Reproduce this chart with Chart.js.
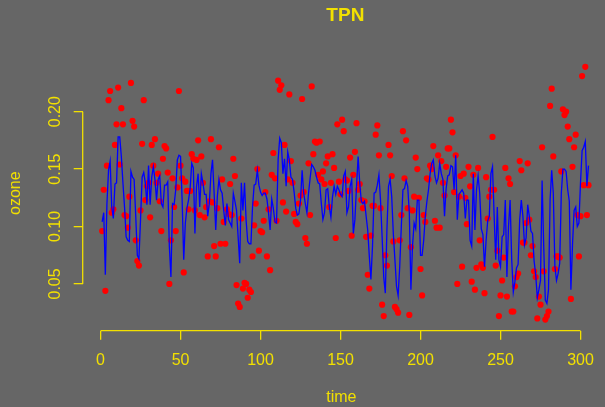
<!DOCTYPE html>
<html><head><meta charset="utf-8">
<script src="https://cdn.jsdelivr.net/npm/chart.js@4.4.1/dist/chart.umd.min.js"></script>
<style>html,body{margin:0;padding:0;background:#666666;overflow:hidden}canvas{display:block}</style>
</head><body>
<canvas id="c" width="605" height="407"></canvas>
<script>
const chartTitle = 'TPN';
const xLabel = 'time';
const yLabel = 'ozone';
const xTicks = [0, 50, 100, 150, 200, 250, 300];
const yTicks = [0.05, 0.10, 0.15, 0.20];
const yTickLabels = ['0.05', '0.10', '0.15', '0.20'];

// observed ozone (red points), time = 1..305
const observed = [
0.096,0.132,0.044,0.153,0.210,0.218,0.112,0.115,0.171,0.189,
0.221,0.154,0.203,0.189,0.110,0.109,0.099,0.126,0.225,0.192,
0.187,0.088,0.070,0.066,0.114,0.172,0.210,0.123,0.135,0.138,
0.108,0.171,0.153,0.176,0.138,0.146,0.122,0.096,0.159,0.170,
0.168,0.147,0.050,0.088,0.142,0.117,0.096,0.134,0.218,0.153,
0.142,0.060,0.139,0.131,0.115,0.131,0.163,0.159,0.114,0.158,
0.175,0.110,0.161,0.138,0.108,0.117,0.074,0.122,0.176,0.121,
0.083,0.074,0.116,0.169,0.085,0.141,0.104,0.085,0.115,0.111,
0.137,0.110,0.159,0.144,0.049,0.033,0.030,0.107,0.046,0.051,
0.050,0.038,0.045,0.043,0.074,0.101,0.120,0.150,0.079,0.096,
0.095,0.105,0.130,0.074,0.115,0.062,0.145,0.164,0.142,0.105,
0.227,0.219,0.223,0.121,0.171,0.113,0.141,0.215,0.157,0.138,
0.111,0.104,0.102,0.120,0.127,0.211,0.130,0.090,0.085,0.155,
0.110,0.222,0.163,0.174,0.173,0.145,0.174,0.141,0.148,0.137,
0.155,0.161,0.117,0.138,0.163,0.151,0.090,0.189,0.139,0.128,
0.193,0.183,0.141,0.140,0.131,0.160,0.092,0.145,0.165,0.190,
0.132,0.137,0.123,0.116,0.122,0.091,0.058,0.046,0.092,0.118,
0.118,0.180,0.188,0.162,0.116,0.032,0.022,0.075,0.066,0.171,
0.162,0.144,0.087,0.030,0.028,0.025,0.088,0.110,0.183,0.142,
0.175,0.116,0.023,0.082,0.114,0.126,0.160,0.150,0.125,0.063,
0.040,0.110,0.104,0.142,0.141,0.153,0.150,0.170,0.105,0.099,
0.162,0.099,0.157,0.138,0.127,0.152,0.168,0.168,0.193,0.182,
0.130,0.162,0.050,0.126,0.144,0.065,0.146,0.125,0.102,0.152,
0.135,0.052,0.145,0.045,0.064,0.151,0.088,0.067,0.064,0.042,
0.143,0.107,0.126,0.132,0.178,0.132,0.066,0.079,0.022,0.040,
0.053,0.073,0.151,0.039,0.142,0.137,0.026,0.026,0.048,0.056,
0.059,0.157,0.149,0.086,0.086,0.103,0.155,0.106,0.075,0.083,
0.061,0.056,0.020,0.039,0.032,0.169,0.061,0.019,0.022,0.026,
0.205,0.220,0.161,0.063,0.074,0.074,0.073,0.148,0.202,0.197,
0.200,0.187,0.176,0.037,0.152,0.169,0.180,0.110,0.074,0.109,
0.231,0.136,0.239,0.110,0.136
];

// fitted ozone (blue line), time = 1..305
const fitted = [
0.104,0.112,0.058,0.120,0.149,0.157,0.117,0.107,0.137,0.138,
0.178,0.178,0.161,0.138,0.117,0.091,0.088,0.087,0.148,0.143,
0.141,0.109,0.075,0.072,0.106,0.143,0.147,0.138,0.119,0.153,
0.119,0.143,0.152,0.141,0.123,0.141,0.144,0.120,0.117,0.136,
0.136,0.139,0.083,0.056,0.120,0.119,0.132,0.158,0.162,0.161,
0.123,0.071,0.103,0.116,0.123,0.133,0.155,0.151,0.094,0.135,
0.146,0.117,0.146,0.138,0.128,0.128,0.109,0.120,0.146,0.158,
0.129,0.097,0.126,0.141,0.132,0.129,0.114,0.101,0.120,0.106,
0.103,0.100,0.129,0.122,0.114,0.091,0.068,0.138,0.114,0.138,
0.105,0.087,0.085,0.085,0.117,0.136,0.137,0.149,0.136,0.130,
0.127,0.129,0.129,0.124,0.112,0.097,0.124,0.116,0.104,0.103,
0.158,0.177,0.173,0.146,0.159,0.135,0.165,0.158,0.143,0.141,
0.130,0.116,0.110,0.111,0.123,0.149,0.129,0.120,0.112,0.129,
0.142,0.154,0.152,0.149,0.143,0.138,0.137,0.120,0.106,0.112,
0.132,0.133,0.117,0.108,0.126,0.135,0.128,0.135,0.132,0.128,
0.126,0.144,0.148,0.112,0.117,0.135,0.141,0.094,0.106,0.135,
0.161,0.138,0.122,0.120,0.122,0.109,0.097,0.074,0.054,0.083,
0.129,0.130,0.136,0.145,0.123,0.091,0.056,0.042,0.097,0.135,
0.141,0.126,0.094,0.071,0.048,0.040,0.065,0.100,0.132,0.133,
0.140,0.135,0.112,0.045,0.083,0.103,0.098,0.123,0.123,0.075,
0.075,0.088,0.109,0.122,0.132,0.146,0.155,0.158,0.144,0.138,
0.142,0.155,0.146,0.141,0.109,0.133,0.144,0.145,0.153,0.152,
0.132,0.162,0.106,0.128,0.130,0.132,0.129,0.107,0.123,0.123,
0.088,0.083,0.146,0.097,0.132,0.144,0.129,0.098,0.093,0.065,
0.088,0.105,0.109,0.146,0.152,0.110,0.071,0.117,0.071,0.065,
0.091,0.093,0.123,0.056,0.100,0.123,0.071,0.043,0.052,0.064,
0.067,0.106,0.123,0.109,0.084,0.090,0.119,0.109,0.096,0.094,
0.070,0.058,0.038,0.045,0.053,0.140,0.083,0.036,0.033,0.045,
0.123,0.149,0.129,0.065,0.053,0.059,0.068,0.129,0.150,0.150,
0.148,0.132,0.122,0.045,0.084,0.114,0.117,0.100,0.103,0.138,
0.166,0.169,0.174,0.135,0.153
];

const time = observed.map((_, i) => i + 1);

const xRange = [-11.15, 312.26];
const yRange = [0.0093, 0.2488];
const plotRegionX = [-11.16, 317.2];
const FG = '#f2e000';
const BG = '#666666';
const FONT = '"Liberation Sans", Arial, Helvetica, sans-serif';

const bgPlugin = {
  id: 'bg',
  beforeDraw(c) {
    const ctx = c.ctx;
    ctx.save();
    ctx.fillStyle = BG;
    ctx.fillRect(0, 0, c.width, c.height);
    ctx.restore();
  }
};

const axisPlugin = {
  id: 'axisLines',
  afterDraw(c) {
    const { ctx, scales: { x, y }, chartArea } = c;
    ctx.save();
    ctx.strokeStyle = FG;
    ctx.lineWidth = 1.3;
    ctx.beginPath();
    const yb = chartArea.bottom;
    ctx.moveTo(x.getPixelForValue(xTicks[0]), yb);
    ctx.lineTo(x.getPixelForValue(xTicks[xTicks.length - 1]), yb);
    const xl = chartArea.left;
    ctx.moveTo(xl, y.getPixelForValue(yTicks[0]));
    ctx.lineTo(xl, y.getPixelForValue(yTicks[yTicks.length - 1]));
    ctx.stroke();
    ctx.fillStyle = FG;
    ctx.font = 'bold 19px ' + FONT;
    ctx.textAlign = 'center';
    ctx.textBaseline = 'middle';
    const cx = (x.getPixelForValue(plotRegionX[0]) + x.getPixelForValue(plotRegionX[1])) / 2;
    ctx.fillText(chartTitle, cx, 16);
    ctx.restore();
  }
};

new Chart(document.getElementById('c'), {
  type: 'line',
  data: {
    datasets: [
      {
        label: 'fitted',
        data: time.map((t, i) => ({ x: t, y: fitted[i] })),
        borderColor: '#0000ff',
        borderWidth: 1.3,
        pointRadius: 0,
        tension: 0,
        fill: false
      },
      {
        label: 'observed',
        data: time.map((t, i) => ({ x: t, y: observed[i] })),
        showLine: false,
        pointRadius: 3.1,
        pointBackgroundColor: '#ff0000',
        pointBorderColor: '#ff0000',
        pointBorderWidth: 0,
        borderColor: '#ff0000'
      }
    ]
  },
  options: {
    responsive: false,
    animation: false,
    devicePixelRatio: 1,
    layout: { padding: { top: 55.6, left: 0, right: 0, bottom: 0 } },
    plugins: { legend: { display: false }, tooltip: { enabled: false }, title: { display: false } },
    scales: {
      x: {
        type: 'linear',
        min: xRange[0], max: xRange[1],
        afterBuildTicks: s => { s.ticks = xTicks.map(v => ({ value: v })); },
        afterFit: s => { s.height = 76.3; },
        grid: { drawOnChartArea: false, drawTicks: true, tickLength: 9, color: FG, lineWidth: 1.3 },
        border: { display: false },
        ticks: { color: FG, font: { family: FONT, size: 16 }, padding: 11, autoSkip: false, minRotation: 0, maxRotation: 0,
                 callback: (v) => String(v) },
        title: { display: true, text: xLabel, color: FG, font: { family: FONT, size: 16 }, padding: { top: 0, bottom: 0 } }
      },
      y: {
        type: 'linear',
        min: yRange[0], max: yRange[1],
        afterBuildTicks: s => { s.ticks = yTicks.map(v => ({ value: v })); },
        afterFit: s => { s.width = 82.7; },
        grid: { drawOnChartArea: false, drawTicks: true, tickLength: 9, color: FG, lineWidth: 1.3 },
        border: { display: false },
        ticks: { color: FG, font: { family: FONT, size: 16 }, padding: 3, autoSkip: false, minRotation: 90, maxRotation: 90,
                 crossAlign: 'center', callback: (v, i) => yTickLabels[i] },
        title: { display: true, text: yLabel, color: FG, font: { family: FONT, size: 16 }, padding: { top: 6, bottom: 0 } }
      }
    }
  },
  plugins: [bgPlugin, axisPlugin]
});
</script>
</body></html>
